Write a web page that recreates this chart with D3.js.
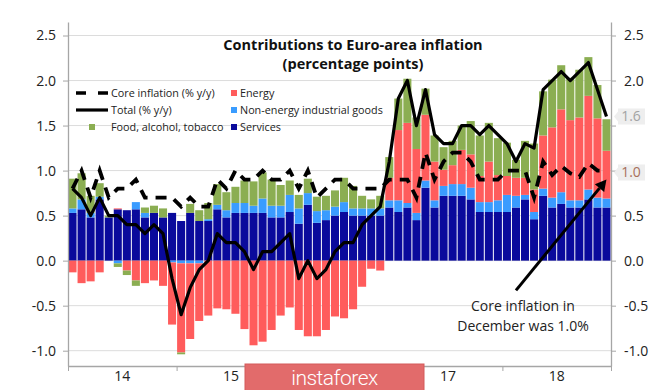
<!DOCTYPE html>
<html><head><meta charset="utf-8">
<script src="https://cdn.jsdelivr.net/npm/d3@7"></script>
<style>
html,body{margin:0;padding:0;background:#fff;}
svg{display:block;font-family:"Open Sans","Noto Sans",sans-serif;}
</style></head><body>
<svg id="c" width="665" height="390"></svg>
<script>
// Monthly data, Jan 2014 – Dec 2018 (percentage points)
const yearLabels = ["14","15","16","17","18"];
const services = [
 0.53,0.57,0.48,0.68,0.48,0.57,0.56,0.57,0.48,0.53,0.48,0.53,
 0.44,0.53,0.44,0.44,0.57,0.48,0.53,0.53,0.53,0.53,0.48,0.48,
 0.54,0.41,0.62,0.42,0.45,0.50,0.54,0.50,0.50,0.50,0.50,0.59,
 0.54,0.59,0.45,0.81,0.59,0.72,0.72,0.72,0.68,0.54,0.54,0.54,
 0.54,0.59,0.68,0.46,0.72,0.59,0.63,0.59,0.59,0.68,0.59,0.59];
const neig = [
 0.05,0.11,0.05,0.03,0.00,-0.03,0.00,0.08,0.05,0.00,0.00,-0.02,
 -0.03,-0.03,-0.03,0.02,0.05,0.08,0.11,0.11,0.08,0.16,0.13,0.13,
 0.19,0.17,0.13,0.13,0.11,0.10,0.11,0.08,0.08,0.08,0.08,0.08,
 0.13,0.05,0.08,0.08,0.08,0.11,0.13,0.13,0.13,0.11,0.11,0.13,
 0.19,0.13,0.05,0.08,0.08,0.11,0.13,0.08,0.08,0.11,0.11,0.10];
const energy = [
 -0.13,-0.25,-0.23,-0.13,0.00,0.01,-0.11,-0.22,-0.25,-0.22,-0.28,-0.69,
 -0.99,-0.84,-0.64,-0.61,-0.53,-0.54,-0.59,-0.76,-0.94,-0.90,-0.77,-0.61,
 -0.52,-0.77,-0.84,-0.84,-0.77,-0.62,-0.64,-0.54,-0.29,-0.09,-0.11,0.25,
 0.78,0.89,0.71,0.73,0.43,0.18,0.21,0.38,0.37,0.29,0.45,0.28,
 0.21,0.20,0.19,0.25,0.59,0.78,0.92,0.89,0.92,1.04,0.88,0.53];
const food = [
 0.33,0.29,0.19,0.15,0.02,-0.04,-0.05,-0.06,0.06,0.08,0.10,0.00,
 -0.02,0.10,0.12,0.18,0.23,0.20,0.18,0.25,0.27,0.29,0.29,0.23,
 0.16,0.15,0.16,0.16,0.16,0.18,0.27,0.25,0.14,0.10,0.14,0.23,
 0.35,0.49,0.35,0.29,0.29,0.25,0.27,0.27,0.37,0.45,0.43,0.41,
 0.37,0.20,0.41,0.51,0.49,0.53,0.49,0.47,0.53,0.43,0.37,0.35];
const total = [
 0.8,0.7,0.5,0.7,0.5,0.5,0.4,0.4,0.3,0.4,0.3,-0.2,
 -0.6,-0.3,-0.1,0.0,0.3,0.2,0.2,0.1,-0.1,0.1,0.1,0.2,
 0.3,-0.2,0.0,-0.2,-0.1,0.1,0.2,0.2,0.4,0.5,0.6,1.1,
 1.8,2.0,1.5,1.9,1.4,1.3,1.3,1.5,1.5,1.4,1.5,1.4,
 1.3,1.1,1.3,1.25,1.9,2.0,2.1,2.0,2.1,2.2,1.9,1.6];
const core = [
 0.8,1.0,0.7,1.0,0.7,0.8,0.8,0.9,0.7,0.7,0.7,0.7,
 0.6,0.7,0.6,0.6,0.9,0.8,1.0,0.9,0.9,1.0,0.9,0.9,
 1.0,0.8,1.0,0.7,0.8,0.9,0.9,0.8,0.8,0.8,0.8,0.9,
 0.9,0.9,0.7,1.2,0.9,1.1,1.2,1.2,1.1,0.9,0.9,0.9,
 1.0,1.0,1.0,0.7,1.1,0.95,1.05,0.97,0.93,1.08,1.0,1.0];
const yTicks = [-1.0,-0.5,0.0,0.5,1.0,1.5,2.0,2.5];
const seriesKeys = ["services","neig","energy","food"];
const seriesColors = {services:"#0a0a9c", neig:"#3a9cff", energy:"#ff5c5c", food:"#8bae52"};
const legendLabels = {services:"Services", neig:"Non-energy industrial goods", energy:"Energy", food:"Food, alcohol, tobacco"};
const lastTotalLabel = "1.6", lastCoreLabel = "1.0";

const svg = d3.select("#c");
const N = services.length;
const rows = d3.range(N).map(i => ({i, services:services[i], neig:neig[i], energy:energy[i], food:food[i]}));

const x = d3.scaleLinear().domain([0, N]).range([68, 611]);
const y = d3.scaleLinear().domain([-1.17, 2.65]).range([366, 22]);

// gridlines
svg.append("g").selectAll("line").data(yTicks).join("line")
  .attr("x1", x(0)).attr("x2", x(N))
  .attr("y1", d => y(d)).attr("y2", d => y(d))
  .attr("stroke", "#dcdcdc").attr("stroke-width", 1);

// bars
const stack = d3.stack().keys(seriesKeys).offset(d3.stackOffsetDiverging)(rows);
svg.append("g").selectAll("g").data(stack).join("g")
  .attr("fill", s => seriesColors[s.key])
  .selectAll("rect").data(s => s).join("rect")
  .attr("x", d => x(d.data.i) + 0.5)
  .attr("width", d => x(d.data.i + 1) - x(d.data.i) - 1)
  .attr("y", d => y(Math.max(d[0], d[1])))
  .attr("height", d => Math.abs(y(d[0]) - y(d[1])));

// axes
const fmt = d => d.toFixed(1);
const axL = svg.append("g").attr("transform", `translate(${x(0)},0)`)
  .call(d3.axisLeft(y).tickValues(yTicks).tickFormat(fmt).tickSize(5).tickSizeOuter(0).tickPadding(7));
const axR = svg.append("g").attr("transform", `translate(${x(N)},0)`)
  .call(d3.axisRight(y).tickValues(yTicks).tickFormat(fmt).tickSize(5).tickSizeOuter(0).tickPadding(8));
const axB = svg.append("g").attr("transform", `translate(0,${y(-1.17)})`)
  .call(d3.axisBottom(x).tickValues(d3.range(0, N + 1, 12)).tickFormat("").tickSize(5).tickSizeOuter(0));
[axL, axR, axB].forEach(a => {
  a.selectAll(".domain").attr("stroke", "#a6a6a6").attr("stroke-width", 1.3);
  a.selectAll(".tick line").attr("stroke", "#a6a6a6");
  a.selectAll("text").attr("font-size", 14).attr("fill", "#222").attr("font-family", "Open Sans, sans-serif");
});
axR.selectAll(".tick").filter(d => d === 1.5 || d === 1.0).select("text").remove();
// year labels (the "16" label sits under the watermark in the reference, so it is not drawn)
svg.append("g").selectAll("text").data(yearLabels.map((d, k) => ({d, k})).filter(o => o.d !== "16")).join("text")
  .attr("x", o => x(12 * o.k + 6)).attr("y", 381)
  .attr("text-anchor", "middle").attr("font-size", 14).attr("fill", "#222").text(o => o.d);

// lines
const line = d3.line().x((d, i) => x(i + 0.5)).y(d => y(d));
svg.append("path").datum(total).attr("d", line).attr("fill", "none")
  .attr("stroke", "#000").attr("stroke-width", 3.2).attr("stroke-linejoin", "round");
svg.append("path").datum(core).attr("d", line).attr("fill", "none")
  .attr("stroke", "#000").attr("stroke-width", 3.8).attr("stroke-dasharray", "11,8");

// right value callouts
function callout(v, txt, col) {
  const cy = y(v), g = svg.append("g");
  g.append("path").attr("d", `M${x(N)+3},${cy} L${x(N)+7},${cy-5} L${x(N)+7},${cy-8} L${x(N)+34},${cy-8} L${x(N)+34},${cy+8} L${x(N)+7},${cy+8} L${x(N)+7},${cy+5} Z`)
    .attr("fill", "#eeeeee");
  g.append("text").attr("x", x(N) + 20).attr("y", cy).attr("dy", "0.35em")
    .attr("text-anchor", "middle").attr("font-size", 14).attr("fill", col).text(txt);
}
callout(total[N-1], lastTotalLabel, "#a3a3a3");
callout(core[N-1] - 0.02, lastCoreLabel, "#a8705c");

// title
const title = svg.append("g").attr("font-weight", "bold").attr("font-size", 14.5).attr("text-anchor", "middle").attr("fill", "#111");
title.append("text").attr("x", 353).attr("y", 50).text("Contributions to Euro-area inflation");
title.append("text").attr("x", 353).attr("y", 69).text("(percentage points)");

// legend
const lg = svg.append("g").attr("font-size", 10.8).attr("fill", "#222");
lg.append("line").attr("x1", 76).attr("x2", 108).attr("y1", 93).attr("y2", 93)
  .attr("stroke", "#000").attr("stroke-width", 3.5).attr("stroke-dasharray", "10,12");
lg.append("text").attr("x", 111).attr("y", 93).attr("dy", "0.35em").text("Core inflation (% y/y)");
lg.append("line").attr("x1", 76).attr("x2", 108).attr("y1", 110).attr("y2", 110)
  .attr("stroke", "#000").attr("stroke-width", 3.2);
lg.append("text").attr("x", 111).attr("y", 110).attr("dy", "0.35em").text("Total (% y/y)");
lg.append("rect").attr("x", 89).attr("y", 124).attr("width", 6).attr("height", 6).attr("fill", seriesColors.food);
lg.append("text").attr("x", 111).attr("y", 127).attr("dy", "0.35em").text(legendLabels.food);
["energy","neig","services"].forEach((k, j) => {
  lg.append("rect").attr("x", 231).attr("y", 90 + 17 * j).attr("width", 6).attr("height", 6).attr("fill", seriesColors[k]);
  lg.append("text").attr("x", 240).attr("y", 93 + 17 * j).attr("dy", "0.35em").text(legendLabels[k]);
});

// annotation
const tip = [x(N - 0.5), y(core[N-1]) + 9];
const start = [x(49.5), y(-0.33)];
const ang = Math.atan2(tip[1] - start[1], tip[0] - start[0]);
const back = [tip[0] - 11 * Math.cos(ang), tip[1] - 11 * Math.sin(ang)];
svg.append("line").attr("x1", start[0]).attr("y1", start[1]).attr("x2", back[0]).attr("y2", back[1])
  .attr("stroke", "#000").attr("stroke-width", 3);
const px = -Math.sin(ang) * 6, py = Math.cos(ang) * 6;
svg.append("path").attr("d", `M${tip[0]},${tip[1]} L${back[0]+px},${back[1]+py} L${back[0]-px},${back[1]-py} Z`).attr("fill", "#000");
const ann = svg.append("g").attr("font-size", 14).attr("text-anchor", "middle").attr("fill", "#222");
ann.append("text").attr("x", 523).attr("y", 311).text("Core inflation in");
ann.append("text").attr("x", 523).attr("y", 331).text("December was 1.0%");

// watermark
const wm = svg.append("g");
wm.append("rect").attr("x", 245).attr("y", 364).attr("width", 179).attr("height", 30)
  .attr("fill", "#e26b6b").attr("stroke", "#d45a5a");
wm.append("text").attr("x", 334.5).attr("y", 385).attr("text-anchor", "middle")
  .attr("font-size", 21).attr("fill", "#fff").attr("font-family", "Roboto, sans-serif").attr("font-weight", 300)
  .attr("letter-spacing", "-0.5").text("instaforex");
</script>
</body></html>
